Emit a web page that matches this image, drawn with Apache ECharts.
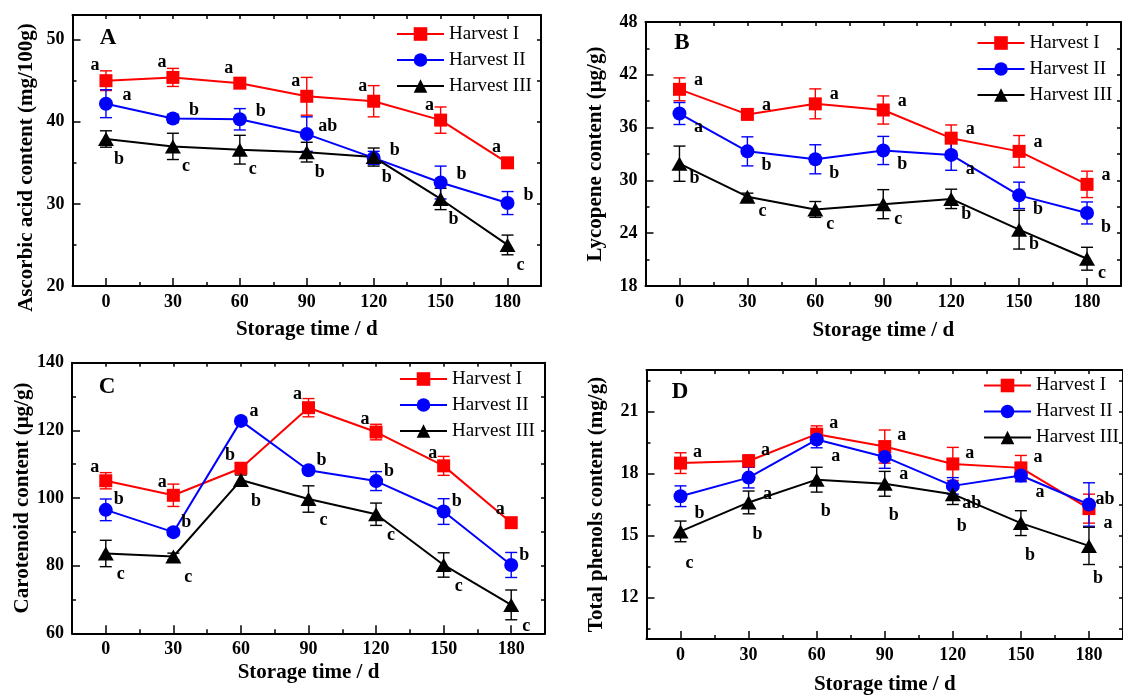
<!DOCTYPE html>
<html><head><meta charset="utf-8">
<script src="https://cdn.jsdelivr.net/npm/echarts@6/dist/echarts.min.js"></script>
<style>html,body{margin:0;padding:0;background:#fff}#chart{width:1123px;height:696px}</style>
</head><body><div id="chart"></div>
<script>
// ---------- data ----------
const days = [0, 30, 60, 90, 120, 150, 180];
const seriesNames = ['Harvest I', 'Harvest II', 'Harvest III'];
const xTickValues = [0, 30, 60, 90, 120, 150, 180];
const xMinorValues = [15, 45, 75, 105, 135, 165];

// Panel A: ascorbic acid (mg/100g)
const ascorbicI   = [45.0, 45.4, 44.7, 43.1, 42.5, 40.2, 35.0];
const ascorbicII  = [42.2, 40.4, 40.3, 38.5, 35.6, 32.6, 30.1];
const ascorbicIII = [37.9, 37.0, 36.6, 36.3, 35.7, 30.6, 25.0];
const ascorbicSdI   = [1.2, 1.1, 0.3, 2.3, 1.9, 1.6, 0.5];
const ascorbicSdII  = [1.7, 0.5, 1.3, 2.1, 0.8, 2.0, 1.4];
const ascorbicSdIII = [1.0, 1.6, 1.75, 1.2, 1.1, 1.3, 1.2];
const ascorbicLetI   = ['a', 'a', 'a', 'a', 'a', 'a', 'a'];
const ascorbicLetII  = ['a', 'b', 'b', 'ab', 'b', 'b', 'b'];
const ascorbicLetIII = ['b', 'c', 'c', 'b', 'b', 'b', 'c'];
const ascorbicTicks = [20, 30, 40, 50];
const ascorbicMinor = [25, 35, 45];

// Panel B: lycopene (µg/g)
const lycopeneI   = [40.35, 37.5, 38.7, 38.0, 34.8, 33.3, 29.55];
const lycopeneII  = [37.6, 33.3, 32.4, 33.4, 32.9, 28.3, 26.3];
const lycopeneIII = [31.9, 28.15, 26.7, 27.3, 27.9, 24.4, 21.1];
const lycopeneSdI   = [1.3, 0.4, 1.7, 1.6, 1.5, 1.8, 1.5];
const lycopeneSdII  = [1.25, 1.65, 1.65, 1.6, 1.75, 1.5, 1.25];
const lycopeneSdIII = [2.0, 0.4, 0.9, 1.65, 1.1, 2.2, 1.3];
const lycopeneLetI   = ['a', 'a', 'a', 'a', 'a', 'a', 'a'];
const lycopeneLetII  = ['a', 'b', 'b', 'b', 'a', 'b', 'b'];
const lycopeneLetIII = ['b', 'c', 'c', 'c', 'b', 'b', 'c'];
const lycopeneTicks = [18, 24, 30, 36, 42, 48];
const lycopeneMinor = [21, 27, 33, 39, 45];

// Panel C: carotenoid (µg/g)
const carotenoidI   = [105.1, 100.8, 108.8, 126.7, 119.5, 109.5, 92.7];
const carotenoidII  = [96.5, 89.9, 122.8, 108.2, 105.0, 96.0, 80.2];
const carotenoidIII = [83.6, 82.7, 105.3, 99.7, 95.2, 80.2, 68.4];
const carotenoidSdI   = [2.4, 3.3, 1.5, 2.7, 2.3, 2.8, 1.0];
const carotenoidSdII  = [3.2, 1.0, 1.0, 1.0, 2.8, 3.8, 3.7];
const carotenoidSdIII = [3.9, 1.0, 1.5, 3.9, 3.3, 3.6, 4.4];
const carotenoidLetI   = ['a', 'a', 'b', 'a', 'a', 'a', 'a'];
const carotenoidLetII  = ['b', 'b', 'a', 'b', 'b', 'b', 'b'];
const carotenoidLetIII = ['c', 'c', 'b', 'c', 'c', 'c', 'c'];
const carotenoidTicks = [60, 80, 100, 120, 140];
const carotenoidMinor = [70, 90, 110, 130];

// Panel D: total phenols (mg/g)
const phenolsI   = [18.5, 18.6, 19.9, 19.3, 18.46, 18.27, 16.3];
const phenolsII  = [16.9, 17.8, 19.64, 18.8, 17.4, 17.9, 16.5];
const phenolsIII = [15.2, 16.6, 17.7, 17.5, 17.0, 15.6, 14.5];
const phenolsSdI   = [0.5, 0.3, 0.4, 0.8, 0.8, 0.6, 0.7];
const phenolsSdII  = [0.5, 0.5, 0.4, 0.55, 0.4, 0.3, 1.05];
const phenolsSdIII = [0.5, 0.55, 0.6, 0.6, 0.5, 0.6, 0.9];
const phenolsLetI   = ['a', 'a', 'a', 'a', 'a', 'a', 'a'];
const phenolsLetII  = ['b', 'a', 'a', 'a', 'ab', 'a', 'ab'];
const phenolsLetIII = ['c', 'b', 'b', 'b', 'b', 'b', 'b'];
const phenolsTicks = [12, 15, 18, 21];
const phenolsMinor = [10.5, 13.5, 16.5, 19.5, 22.5];

// ---------- styling / layout ----------
const FONT = 'Liberation Serif';
const COLORS = ['#ff0000', '#0000ff', '#000000'];
const SYMBOLS = ['rect', 'circle', 'triangle'];
const SYMBOL_SIZES = [13, 14, [16, 14]];

const panels = [
  { letter: 'A', letterPos: [108, 38], grid: { left: 72.5, top: 15, right: 582, bottom: 410 },
    yMin: 20, yMax: 53, yTicks: ascorbicTicks, yMinor: ascorbicMinor,
    yName: 'Ascorbic acid content (mg/100g)', yGap: 35, yPad: [0, 34, 0, 0], xGap: 33,
    legend: { left: 396, top: 24.5 },
    vals: [ascorbicI, ascorbicII, ascorbicIII], sds: [ascorbicSdI, ascorbicSdII, ascorbicSdIII],
    lets: [ascorbicLetI, ascorbicLetII, ascorbicLetIII],
    offs: [[-11, -15], [21, -8], [13, 20]], special: {} },
  { letter: 'B', letterPos: [682, 43], grid: { left: 645.5, top: 22, right: 2, bottom: 410 },
    yMin: 18, yMax: 48, yTicks: lycopeneTicks, yMinor: lycopeneMinor,
    yName: 'Lycopene content (\u03bcg/g)', yGap: 39, yPad: [0, 0, 0, 0], xGap: 34,
    legend: { left: 976.5, top: 33.5 },
    vals: [lycopeneI, lycopeneII, lycopeneIII], sds: [lycopeneSdI, lycopeneSdII, lycopeneSdIII],
    lets: [lycopeneLetI, lycopeneLetII, lycopeneLetIII],
    offs: [[19, -9], [19, 14], [15, 15]], special: {} },
  { letter: 'C', letterPos: [107, 387], grid: { left: 72, top: 362.7, right: 578, bottom: 62.7 },
    yMin: 60, yMax: 140, yTicks: carotenoidTicks, yMinor: carotenoidMinor,
    yName: 'Carotenoid content (\u03bcg/g)', yGap: 38, yPad: [0, 0, 0, 0], xGap: 29,
    legend: { left: 399, top: 369.5 },
    vals: [carotenoidI, carotenoidII, carotenoidIII], sds: [carotenoidSdI, carotenoidSdII, carotenoidSdIII],
    lets: [carotenoidLetI, carotenoidLetII, carotenoidLetIII],
    offs: [[-11, -13], [13, -10], [15, 21]], special: {} },
  { letter: 'D', letterPos: [680, 392], grid: { left: 646.5, top: 370, right: -3, bottom: 57 },
    yMin: 10, yMax: 23, yTicks: phenolsTicks, yMinor: phenolsMinor,
    yName: 'Total phenols content (mg/g)', yGap: 39, yPad: [0, 0, 0, 0], xGap: 35,
    legend: { left: 983, top: 376 },
    vals: [phenolsI, phenolsII, phenolsIII], sds: [phenolsSdI, phenolsSdII, phenolsSdIII],
    lets: [phenolsLetI, phenolsLetII, phenolsLetIII],
    offs: [[17, -11], [19, 17], [9, 32]], special: { '0-6': [19, 15], '1-6': [16, -5] } }
];

const grids = [], xAxes = [], yAxes = [], series = [], legends = [], graphics = [];
const axisLineStyle = { color: '#000', width: 2 };
const tickStyle = { color: '#000', width: 1.5 };
const labelFont = { fontFamily: FONT, fontWeight: 'bold', fontSize: 18, color: '#000' };
const nameFont = { fontFamily: FONT, fontWeight: 'bold', fontSize: 21, color: '#000' };

panels.forEach((p, gi) => {
  grids.push(Object.assign({ containLabel: false }, p.grid));
  const xBase = xAxes.length, yBase = yAxes.length;
  // bottom major
  xAxes.push({ gridIndex: gi, type: 'value', min: -15, max: 195, position: 'bottom',
    axisLine: { show: true, onZero: false, lineStyle: axisLineStyle },
    axisTick: { show: true, inside: true, length: 8, customValues: xTickValues, lineStyle: tickStyle },
    axisLabel: Object.assign({ show: true, customValues: xTickValues, margin: 7 }, labelFont),
    splitLine: { show: false },
    name: 'Storage time / d', nameLocation: 'middle', nameGap: p.xGap, nameTextStyle: nameFont });
  // bottom minor
  xAxes.push({ gridIndex: gi, type: 'value', min: -15, max: 195, position: 'bottom',
    axisLine: { show: false, onZero: false },
    axisTick: { show: true, inside: true, length: 4, customValues: xMinorValues, lineStyle: tickStyle },
    axisLabel: { show: false }, splitLine: { show: false } });
  // top
  xAxes.push({ gridIndex: gi, type: 'value', min: -15, max: 195, position: 'top',
    axisLine: { show: true, onZero: false, lineStyle: axisLineStyle },
    axisTick: { show: true, inside: true, length: 4, customValues: xTickValues.concat(xMinorValues), lineStyle: tickStyle },
    axisLabel: { show: false }, splitLine: { show: false } });
  // left major
  yAxes.push({ gridIndex: gi, type: 'value', min: p.yMin, max: p.yMax, position: 'left',
    axisLine: { show: true, onZero: false, lineStyle: axisLineStyle },
    axisTick: { show: true, inside: true, length: 8, customValues: p.yTicks, lineStyle: tickStyle },
    axisLabel: Object.assign({ show: true, customValues: p.yTicks, margin: 8 }, labelFont),
    splitLine: { show: false },
    name: p.yName, nameLocation: 'middle', nameGap: p.yGap,
    nameTextStyle: Object.assign({ padding: p.yPad }, nameFont) });
  // left minor
  yAxes.push({ gridIndex: gi, type: 'value', min: p.yMin, max: p.yMax, position: 'left',
    axisLine: { show: false, onZero: false },
    axisTick: { show: true, inside: true, length: 4, customValues: p.yMinor, lineStyle: tickStyle },
    axisLabel: { show: false }, splitLine: { show: false } });
  // right
  yAxes.push({ gridIndex: gi, type: 'value', min: p.yMin, max: p.yMax, position: 'right',
    axisLine: { show: true, onZero: false, lineStyle: axisLineStyle },
    axisTick: { show: true, inside: true, length: 4, customValues: p.yTicks.concat(p.yMinor), lineStyle: tickStyle },
    axisLabel: { show: false }, splitLine: { show: false } });

  for (let s = 0; s < 3; s++) {
    const vals = p.vals[s], sds = p.sds[s], lets = p.lets[s], color = COLORS[s];
    series.push({
      type: 'custom', name: 'err-' + gi + '-' + s, xAxisIndex: xBase, yAxisIndex: yBase, silent: true,
      data: days.map((d, i) => [d, vals[i] - sds[i], vals[i] + sds[i]]),
      encode: { x: 0, y: [1, 2] },
      renderItem: function (params, api) {
        const x = api.value(0);
        const lo = api.coord([x, api.value(1)]);
        const hi = api.coord([x, api.value(2)]);
        const w = 6;
        const st = { stroke: color, lineWidth: 1.4 };
        return { type: 'group', children: [
          { type: 'line', shape: { x1: hi[0], y1: hi[1], x2: lo[0], y2: lo[1] }, style: st },
          { type: 'line', shape: { x1: hi[0] - w, y1: hi[1], x2: hi[0] + w, y2: hi[1] }, style: st },
          { type: 'line', shape: { x1: lo[0] - w, y1: lo[1], x2: lo[0] + w, y2: lo[1] }, style: st }
        ] };
      }
    });
    series.push({
      type: 'line', name: seriesNames[s], xAxisIndex: xBase, yAxisIndex: yBase,
      symbol: SYMBOLS[s], symbolSize: SYMBOL_SIZES[s], showAllSymbol: true,
      lineStyle: { color: color, width: 2 }, itemStyle: { color: color, opacity: 1 },
      emphasis: { disabled: true },
      data: days.map((d, i) => ({
        value: [d, vals[i]],
        label: { offset: p.special[s + '-' + i] || p.offs[s] }
      })),
      label: { show: true, position: 'inside', formatter: (prm) => lets[prm.dataIndex],
        fontFamily: FONT, fontWeight: 'bold', fontSize: 18, color: '#000' }
    });
  }

  legends.push({ data: seriesNames, orient: 'vertical', left: p.legend.left, top: p.legend.top,
    padding: 0, itemWidth: 47, itemHeight: 17, itemGap: 7, selectedMode: false,
    textStyle: { fontFamily: FONT, fontSize: 19, color: '#000' } });

  graphics.push({ type: 'text', x: p.letterPos[0], y: p.letterPos[1],
    style: { text: p.letter, font: 'bold 23px "' + FONT + '"', fill: '#000', align: 'center', verticalAlign: 'middle' } });
});

const chart = echarts.init(document.getElementById('chart'), null, { renderer: 'canvas' });
chart.setOption({
  backgroundColor: '#fff',
  animation: false,
  grid: grids, xAxis: xAxes, yAxis: yAxes, legend: legends, graphic: graphics, series: series
});
</script></body></html>
